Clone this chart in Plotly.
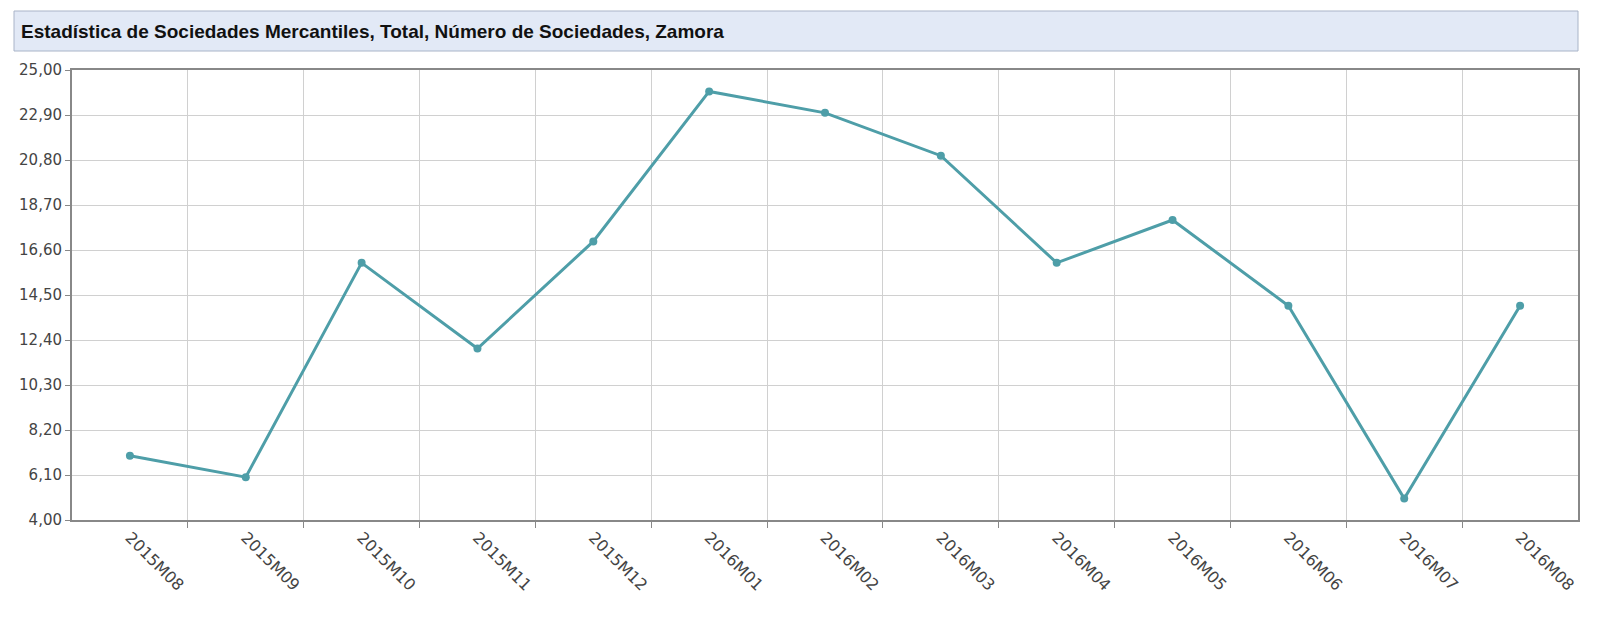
import plotly.graph_objects as go

months = ["2015M08","2015M09","2015M10","2015M11","2015M12","2016M01","2016M02",
          "2016M03","2016M04","2016M05","2016M06","2016M07","2016M08"]
values = [7, 6, 16, 12, 17, 24, 23, 21, 16, 18, 14, 5, 14]
yticks = [4.0, 6.1, 8.2, 10.3, 12.4, 14.5, 16.6, 18.7, 20.8, 22.9, 25.0]
title = "Estadística de Sociedades Mercantiles, Total, Número de Sociedades, Zamora"

idx = list(range(len(months)))
fig = go.Figure(go.Scatter(
    x=idx, y=values, mode="lines+markers",
    line=dict(color="#4e9ea8", width=3),
    marker=dict(color="#4e9ea8", size=8),
    hoverinfo="skip"))

fig.update_layout(
    width=1600, height=638, paper_bgcolor="white", plot_bgcolor="white",
    margin=dict(l=64, r=30, t=62, b=126), showlegend=False,
    font=dict(family="DejaVu Sans", color="#444"),
    shapes=[dict(type="rect", xref="paper", yref="paper",
                 x0=-58/1506, x1=1.0, y0=1+19/450, y1=1+59/450,
                 fillcolor="#e2e9f6", line=dict(color="#a9b4c8", width=1))],
    annotations=[dict(text="<b>"+title+"</b>", xref="paper", yref="paper",
                      x=-53/1506, y=1+39/450, xanchor="left", yanchor="middle",
                      showarrow=False, font=dict(size=19, color="#111",
                                                 family="Liberation Sans"))],
)
fig.update_xaxes(range=[-0.5, 12.5], tickmode="array", tickvals=idx, ticktext=months,
                 tickangle=45, showgrid=False, tickfont=dict(size=16, color="#444"),
                 ticks="", zeroline=False,
                 showline=True, linecolor="#888", linewidth=2, mirror=True,
                 minor=dict(tickvals=[i + 0.5 for i in idx[:-1]], showgrid=True,
                            gridcolor="#d0d0d0", gridwidth=1, ticks="outside",
                            ticklen=6, tickcolor="#888"))
fig.update_yaxes(range=[4, 25], tickmode="array", tickvals=yticks,
                 ticktext=[f"{v:.2f}".replace(".", ",") for v in yticks],
                 showgrid=True, gridcolor="#d0d0d0", zeroline=False,
                 tickfont=dict(size=15, color="#444"),
                 ticks="outside", ticklen=5, tickcolor="#888",
                 showline=True, linecolor="#888", linewidth=2, mirror=True)
fig.write_html("out.html")
